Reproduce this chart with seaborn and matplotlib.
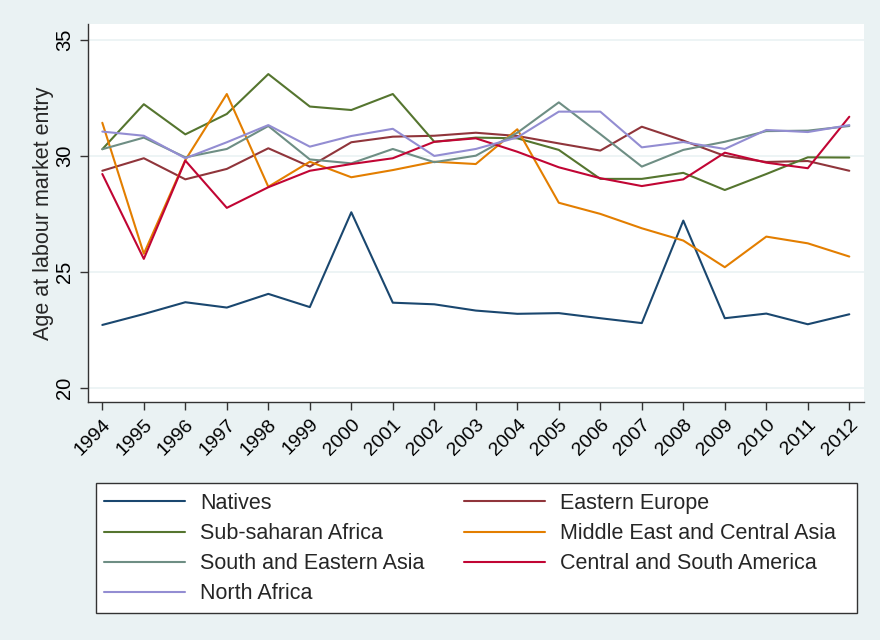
import matplotlib
matplotlib.use("Agg")
import matplotlib.pyplot as plt
from matplotlib.patches import Rectangle
import seaborn as sns
import pandas as pd

years = list(range(1994, 2013))

natives = [22.70, 23.17, 23.68, 23.45, 24.04, 23.47, 27.56, 23.66, 23.59, 23.32,
           23.18, 23.21, 22.99, 22.78, 27.20, 22.99, 23.19, 22.73, 23.16]
eastern_europe = [29.35, 29.89, 28.98, 29.43, 30.32, 29.53, 30.58, 30.82, 30.86, 30.99,
                  30.85, 30.53, 30.22, 31.25, 30.65, 29.99, 29.73, 29.77, 29.35]
sub_saharan = [30.28, 32.22, 30.92, 31.80, 33.52, 32.12, 31.97, 32.66, 30.60, 30.78,
               30.75, 30.25, 29.00, 29.00, 29.26, 28.52, 29.21, 29.93, 29.92]
middle_east = [31.42, 25.77, 29.81, 32.66, 28.66, 29.74, 29.07, 29.38, 29.74, 29.64,
               31.14, 27.97, 27.49, 26.87, 26.34, 25.19, 26.51, 26.22, 25.65]
south_east_asia = [30.28, 30.78, 29.93, 30.29, 31.28, 29.84, 29.67, 30.29, 29.72, 30.00,
                   30.99, 32.30, 30.93, 29.53, 30.25, 30.60, 31.06, 31.08, 31.28]
central_south_america = [29.21, 25.55, 29.79, 27.75, 28.64, 29.35, 29.64, 29.89, 30.60, 30.75,
                         30.17, 29.50, 29.03, 28.69, 28.98, 30.13, 29.70, 29.46, 31.68]
north_africa = [31.04, 30.86, 29.89, 30.58, 31.32, 30.39, 30.85, 31.16, 29.99, 30.29,
                30.79, 31.90, 31.90, 30.36, 30.59, 30.29, 31.11, 31.02, 31.32]

groups = {
    "Natives": natives,
    "Eastern Europe": eastern_europe,
    "Sub-saharan Africa": sub_saharan,
    "Middle East and Central Asia": middle_east,
    "South and Eastern Asia": south_east_asia,
    "Central and South America": central_south_america,
    "North Africa": north_africa,
}

colors = {
    "Natives": "#1a476f",
    "Eastern Europe": "#90353b",
    "Sub-saharan Africa": "#55752f",
    "Middle East and Central Asia": "#e37e00",
    "South and Eastern Asia": "#6e8e84",
    "Central and South America": "#c10534",
    "North Africa": "#938dd2",
}

y_ticks = [20, 25, 30, 35]

df = pd.DataFrame(
    [(name, yr, v) for name, vals in groups.items() for yr, v in zip(years, vals)],
    columns=["group", "year", "age"],
)

sns.set_theme(style="white")
plt.rcParams["font.family"] = ["Liberation Sans", "DejaVu Sans"]

bg = "#eaf2f3"
W, H = 880, 640
fig = plt.figure(figsize=(8.8, 6.4), dpi=100, facecolor=bg)
ax = fig.add_axes([0.1, 0.372, 0.8818, 0.5905])
ax.set_facecolor("white")

sns.lineplot(data=df, x="year", y="age", hue="group", hue_order=list(groups),
             palette=colors, linewidth=1.5, ax=ax, legend=True)

ax.set_xlim(1993.655, 2012.354)
ax.set_ylim(19.38, 35.68)
ax.set_yticks(y_ticks)
ax.set_xticks(years)
ax.set_xticklabels([str(y) for y in years], rotation=45, ha="right",
                   rotation_mode="anchor", fontsize=14)
ax.set_yticklabels([str(t) for t in y_ticks], rotation=90, va="center", fontsize=14.5)
ax.tick_params(axis="both", which="both", direction="out", length=6, width=1,
               color="#333333", labelcolor="black", left=True, bottom=True, pad=4)
for t in y_ticks:
    ax.axhline(t, color=bg, linewidth=1.2, zorder=0)

for side in ["top", "right"]:
    ax.spines[side].set_visible(False)
for side in ["left", "bottom"]:
    ax.spines[side].set_color("#333333")
    ax.spines[side].set_linewidth(1.0)

ax.set_xlabel("")
ax.set_ylabel("Age at labour market entry", fontsize=15.5, labelpad=0.5)

handles, labels = ax.get_legend_handles_labels()
ax.get_legend().remove()
lookup = dict(zip(labels, handles))
order = ["Natives", "Sub-saharan Africa", "South and Eastern Asia", "North Africa",
         "Eastern Europe", "Middle East and Central Asia", "Central and South America"]

# legend box drawn as a separate frame in figure pixels
fig.patches.append(Rectangle((96 / W, 1 - 613 / H), (857 - 96) / W, (613 - 483) / H,
                             transform=fig.transFigure, facecolor="white",
                             edgecolor="#333333", linewidth=1.0, zorder=0))
leg = fig.legend([lookup[k] for k in order], order, ncol=2,
                 loc="upper left", bbox_to_anchor=(104 / W, 1 - 493 / H),
                 fontsize=15.5, frameon=False,
                 handlelength=3.75, handletextpad=0.7, labelspacing=0.42,
                 columnspacing=1.85, borderpad=0.0, borderaxespad=0.0)
for line in leg.get_lines():
    line.set_linewidth(1.5)

fig.savefig("out.png", dpi=100, facecolor=bg)
